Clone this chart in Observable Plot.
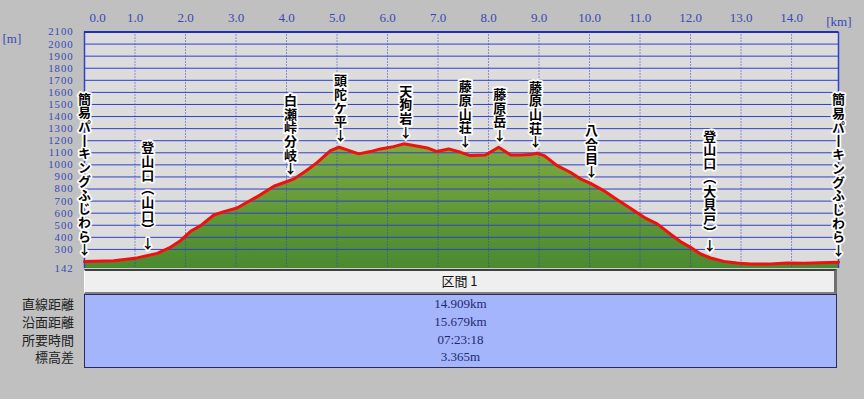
<!DOCTYPE html>
<html><head><meta charset="utf-8">
<script src="https://cdn.jsdelivr.net/npm/d3@7"></script>
<script src="https://cdn.jsdelivr.net/npm/@observablehq/plot@0.6"></script>
<style>
body{margin:0;background:#c0c0c0;}
#wrap{position:relative;width:864px;height:399px;overflow:hidden;background:#c0c0c0;}
#chart{position:absolute;left:0;top:0;}
#hdr{position:absolute;left:84px;top:269px;width:753px;height:25px;box-sizing:border-box;background:#efefef;border-top:2px solid #404040;border-left:1px solid #ffffff;border-right:3px solid #707070;border-bottom:2px solid #808080;text-align:center;line-height:21px;font:13px "Noto Sans CJK JP",sans-serif;color:#111;}
#stats{position:absolute;left:84px;top:294px;width:753px;height:74px;box-sizing:border-box;background:#a5b5fb;border:1px solid #2a2a60;text-align:center;font:13px "Liberation Serif",serif;color:#1e2a6e;}
#statLabels{position:absolute;left:0;top:295px;width:74px;text-align:right;font:13px "Noto Sans CJK JP",sans-serif;color:#222;}
.row{height:17.8px;line-height:17.8px;white-space:nowrap;}
</style></head><body>
<div id="wrap"><div id="chart"></div><div id="hdr"></div><div id="stats"></div><div id="statLabels"></div></div>
<script>
// ---- data ----
const profileKm = [0, 0.58, 1.0, 1.44, 1.70, 1.90, 2.10, 2.30, 2.56, 2.76, 3.02, 3.22, 3.49, 3.75, 4.01, 4.15, 4.41, 4.61, 4.87, 5.04, 5.20, 5.43, 5.66, 5.86, 6.12, 6.32, 6.52, 6.79, 6.98, 7.21, 7.45, 7.64, 7.94, 8.20, 8.44, 8.63, 8.83, 8.96, 9.10, 9.36, 9.62, 9.82, 10.02, 10.28, 10.55, 10.81, 11.08, 11.34, 11.60, 11.80, 12.00, 12.20, 12.40, 12.66, 12.92, 13.19, 13.58, 13.91, 14.25, 14.57, 14.93];
const profileElev = [199, 207, 226, 267, 317, 372, 450, 497, 585, 613, 643, 690, 754, 823, 862, 884, 958, 1021, 1118, 1146, 1124, 1091, 1110, 1132, 1151, 1174, 1160, 1140, 1110, 1132, 1104, 1077, 1082, 1146, 1082, 1082, 1085, 1096, 1077, 994, 939, 884, 847, 787, 712, 640, 566, 511, 428, 365, 317, 262, 229, 201, 188, 180, 180, 188, 185, 190, 193];

const placeNames = ["簡易パーキングふじわら", "登山口(山口)", "白瀬峠分岐", "頭陀ケ平", "天狗岩", "藤原山荘", "藤原岳", "藤原山荘", "八合目", "登山口(大貝戸)", "簡易パーキングふじわら"];
const placeKm = [0, 1.25, 4.08, 5.07, 6.36, 7.54, 8.22, 8.93, 10.04, 12.38, 14.93];
const placeElev = [199, 250, 870, 1145, 1172, 1095, 1146, 1092, 845, 232, 193];

const xTickValues = [0, 1, 2, 3, 4, 5, 6, 7, 8, 9, 10, 11, 12, 13, 14];
const yTickValues = [142, 300, 400, 500, 600, 700, 800, 900, 1000, 1100, 1200, 1300, 1400, 1500, 1600, 1700, 1800, 1900, 2000, 2100];
const xUnit = "[km]";
const yUnit = "[m]";

const sectionLabel = "区間 1";
const statLabels = ["直線距離", "沿面距離", "所要時間", "標高差"];
const statValues = ["14.909km", "15.679km", "07:23:18", "3.365m"];

// ---- build ----
const X_MAX = 14.93, Y_MIN = 142, Y_MAX = 2100;
const profile = profileKm.map((km, i) => ({km, elev: profileElev[i]}));
const places = placeNames.map((name, i) => ({name, km: placeKm[i], elev: placeElev[i]}));
const vmap = {"ー": "丨", "(": "︵", ")": "︶"};
const vert = s => [...s].map(c => vmap[c] || c).join("") + "↓";
const blue = "#3040c8";
const axisBlue = "#3848b8";
const serif = "'Liberation Serif', serif";

const svg = Plot.plot({
  width: 864, height: 270,
  marginLeft: 84, marginRight: 26, marginTop: 31.5, marginBottom: 2,
  x: {domain: [0, X_MAX]},
  y: {domain: [Y_MIN, Y_MAX]},
  style: {background: "transparent", overflow: "visible"},
  marks: [
    Plot.frame({fill: "#dcdcdc", stroke: "none"}),
    Plot.areaY(profile, {x: "km", y1: Y_MIN, y2: "elev", fill: "url(#greenGrad)"}),
    Plot.ruleY(yTickValues.filter(d => d >= 300 && d < 2100), {stroke: blue, strokeWidth: 1}),
    Plot.ruleX(xTickValues.filter(d => d > 0), {stroke: blue, strokeWidth: 1, strokeDasharray: "1,2"}),
    Plot.ruleX([0, X_MAX], {stroke: blue, strokeWidth: 1.5}),
    Plot.ruleY([Y_MAX], {stroke: "#2030b0", strokeWidth: 2}),
    Plot.line(profile, {x: "km", y: "elev", stroke: "#f01010", strokeWidth: 3, strokeLinejoin: "round"}),
    Plot.text(places, {x: "km", y: "elev", text: d => vert(d.name), dy: -5,
      fontSize: 13, fontFamily: "'Noto Sans CJK JP', sans-serif", fontWeight: "bold",
      fill: "#000", stroke: "#fff", strokeWidth: 3.5}),
    Plot.axisX(xTickValues.filter(d => d > 0), {anchor: "top", tickSize: 0, tickPadding: 10, tickFormat: d3.format(".1f"),
      color: axisBlue, fontSize: 13, fontFamily: serif, label: null}),
    Plot.axisX([0], {anchor: "top", tickSize: 0, tickPadding: 10, tickFormat: d3.format(".1f"), dx: 13,
      color: axisBlue, fontSize: 13, fontFamily: serif, label: null}),
    Plot.axisY(yTickValues, {anchor: "left", tickSize: 0, tickPadding: 11, tickFormat: d => String(d),
      color: axisBlue, fontSize: 10.8, fontFamily: serif, label: null}),
    Plot.text([xUnit], {frameAnchor: "top-right", dx: 13, dy: -15, fill: axisBlue, fontSize: 13, fontFamily: serif}),
    Plot.text([yUnit], {frameAnchor: "top-left", textAnchor: "start", dx: -82, dy: 2, fill: axisBlue, fontSize: 13, fontFamily: serif})
  ]
});
d3.select(svg).insert("defs", ":first-child").html(
  '<linearGradient id="greenGrad" x1="0" y1="0" x2="0" y2="1">' +
  '<stop offset="0" stop-color="#7eaa40"/><stop offset="1" stop-color="#4a8a30"/></linearGradient>');
// wider digit spacing on the y tick labels (reference font is wide)
d3.select(svg).selectAll('g[aria-label="y-axis tick label"] text').style("letter-spacing", "0.9px");
// vertical (tategaki) place labels, ending with the arrow just above the profile
d3.select(svg).select('g[aria-label="text"]').selectAll("text")
  .attr("y", 0).attr("dy", null)
  .attr("text-anchor", "end")
  .style("writing-mode", "vertical-rl")
  .style("text-orientation", "upright")
  .style("letter-spacing", "0.7px");
document.getElementById("chart").appendChild(svg);

document.getElementById("hdr").textContent = sectionLabel;
const stats = d3.select("#stats");
statValues.forEach(v => stats.append("div").attr("class", "row").text(v));
const sl = d3.select("#statLabels");
statLabels.forEach(v => sl.append("div").attr("class", "row").text(v));
</script></body></html>
